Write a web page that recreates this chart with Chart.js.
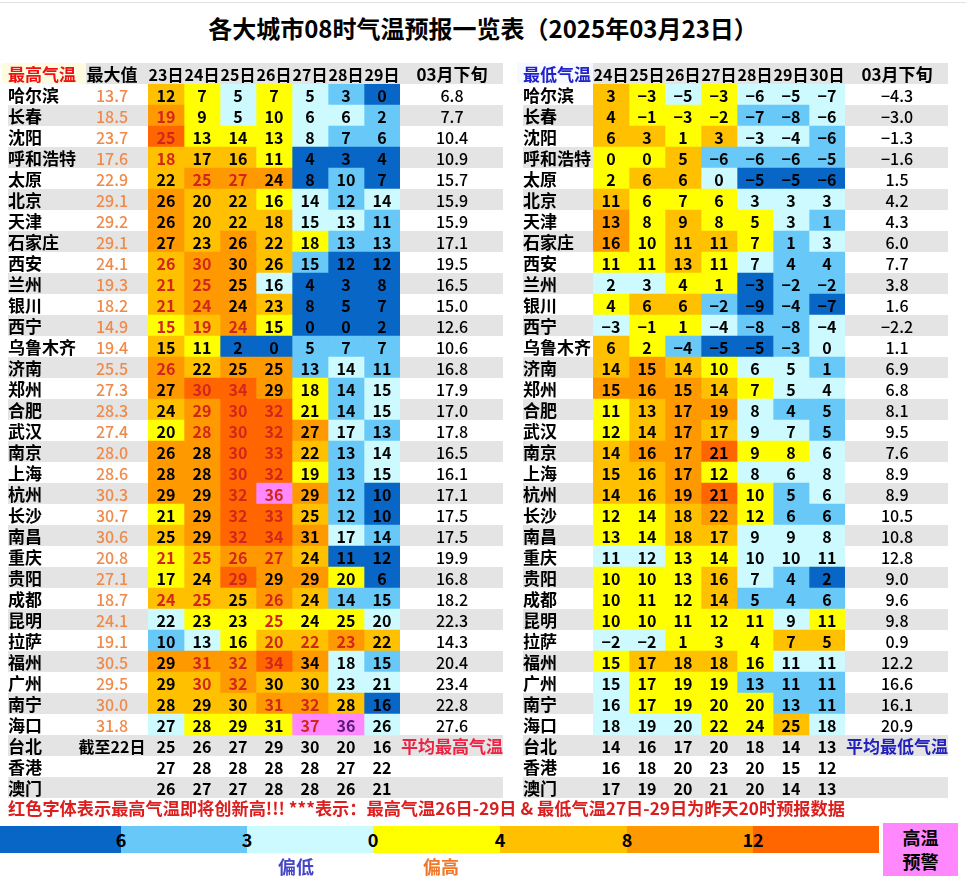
<!DOCTYPE html>
<html><head><meta charset="utf-8">
<script src="https://cdn.jsdelivr.net/npm/chart.js@4.4.1/dist/chart.umd.min.js"></script>
<style>
html,body{margin:0;padding:0;background:#fff;}
body{width:966px;height:890px;overflow:hidden;position:relative;font-family:"Noto Sans CJK SC","Noto Sans",sans-serif;}
#topline{position:absolute;left:0;top:2px;width:966px;height:1px;background:#e2e2e2;}
#title{position:absolute;left:0;top:9px;width:966px;text-align:center;font-size:24px;font-weight:700;line-height:38px;color:#000;}
canvas{position:absolute;top:0;}
#note{position:absolute;left:8px;top:797px;font-size:17.2px;font-weight:700;color:#dc1e1e;line-height:22px;white-space:nowrap;}
.seg{position:absolute;top:826px;height:27px;}
.lab{position:absolute;top:826px;height:27px;line-height:27px;font-size:18px;font-weight:700;color:#000;transform:translateX(-50%);}
#warn{position:absolute;left:883px;top:823px;width:75px;height:53px;background:#ff88ff;text-align:center;font-size:18px;font-weight:700;line-height:24px;padding-top:2px;box-sizing:border-box;}
.tag{position:absolute;top:853px;font-size:18px;font-weight:700;line-height:26px;transform:translateX(-50%);}
</style>
</head><body>
<div id="topline"></div>
<div id="title">各大城市08时气温预报一览表（2025年03月23日）</div>
<canvas id="left" width="515" height="890" style="left:0"></canvas>
<canvas id="right" width="451" height="890" style="left:515px"></canvas>
<div id="note">红色字体表示最高气温即将创新高!!! ***表示：最高气温26日-29日 &amp; 最低气温27日-29日为昨天20时预报数据</div>
<div id="legend"></div>
<div id="warn">高温<br>预警</div>
<div class="tag" style="left:296px;color:#4646c8">偏低</div>
<div class="tag" style="left:441px;color:#f07828">偏高</div>
<script>
// ---------------- DATA ----------------
const cities = ['哈尔滨','长春','沈阳','呼和浩特','太原','北京','天津','石家庄','西安','兰州','银川','西宁','乌鲁木齐','济南','郑州','合肥','武汉','南京','上海','杭州','长沙','南昌','重庆','贵阳','成都','昆明','拉萨','福州','广州','南宁','海口','台北','香港','澳门'];
const highDays = ['23日','24日','25日','26日','27日','28日','29日'];
const lowDays = ['24日','25日','26日','27日','28日','29日','30日'];
const legendTicks = ['6','3','0','4','8','12'];

const highRecord = [13.7,18.5,23.7,17.6,22.9,29.1,29.2,29.1,24.1,19.3,18.2,14.9,19.4,25.5,27.3,28.3,27.4,28.0,28.6,30.3,30.7,30.6,20.8,27.1,18.7,24.1,19.1,30.5,29.5,30.0,31.8];
const highNormal = [6.8,7.7,10.4,10.9,15.7,15.9,15.9,17.1,19.5,16.5,15.0,12.6,10.6,16.8,17.9,17.0,17.8,16.5,16.1,17.1,17.5,17.5,19.9,16.8,18.2,22.3,14.3,20.4,23.4,22.8,27.6];
const lowNormal = [-4.3,-3.0,-1.3,-1.6,1.5,4.2,4.3,6.0,7.7,3.8,1.6,-2.2,1.1,6.9,6.8,8.1,9.5,7.6,8.9,8.9,10.5,10.8,12.8,9.0,9.6,9.8,0.9,12.2,16.6,16.1,20.9];

const highTemps = [
 [12,7,5,7,5,3,0],[19,9,5,10,6,6,2],[25,13,14,13,8,7,6],[18,17,16,11,4,3,4],[22,25,27,24,8,10,7],
 [26,20,22,16,14,12,14],[26,20,22,18,15,13,11],[27,23,26,22,18,13,13],[26,30,30,26,15,12,12],[21,25,25,16,4,3,8],
 [21,24,24,23,8,5,7],[15,19,24,15,0,0,2],[15,11,2,0,5,7,7],[26,22,25,25,13,14,11],[27,30,34,29,18,14,15],
 [24,29,30,32,21,14,15],[20,28,30,32,27,17,13],[26,28,30,33,22,13,14],[28,28,30,32,19,13,15],[29,29,32,36,29,12,10],
 [21,29,32,33,25,12,10],[25,29,32,34,31,17,14],[21,25,26,27,24,11,12],[17,24,29,29,29,20,6],[24,25,25,26,24,14,15],
 [22,23,23,25,24,25,20],[10,13,16,20,22,23,22],[29,31,32,34,34,18,15],[29,30,32,30,30,23,21],[28,29,30,31,32,28,16],
 [27,28,29,31,37,36,26],[25,26,27,29,30,20,16],[27,28,28,28,28,27,22],[26,27,27,28,28,26,21]
];
// anomaly class: -3 <=-6, -2 -6..-3, -1 -3..0, 1 0..4, 2 4..8, 3 8..12, 4 >12, 5 high-temp warning
const highClass = [
 [2,1,-1,1,-1,-2,-3],[3,1,-1,1,-1,-1,-2],[4,1,1,1,-1,-2,-2],[2,2,2,1,-3,-3,-3],[2,3,3,3,-3,-2,-3],
 [3,2,2,1,-1,-2,-1],[3,2,2,2,-1,-1,-2],[3,2,3,2,1,-2,-2],[2,3,3,2,-2,-3,-3],[2,3,3,-1,-3,-3,-3],
 [2,3,3,2,-3,-3,-3],[1,2,3,1,-3,-3,-3],[2,1,-3,-3,-2,-2,-2],[3,2,3,3,-2,-1,-2],[3,4,4,3,1,-2,-1],
 [2,3,4,4,1,-2,-1],[1,3,4,4,3,-1,-2],[3,3,4,4,2,-2,-1],[3,3,4,4,1,-2,-1],[3,3,4,5,3,-2,-3],
 [1,3,4,4,2,-2,-3],[2,3,4,4,3,-1,-2],[1,2,3,3,2,-3,-3],[1,2,4,3,3,1,-3],[2,2,2,3,2,-2,-2],
 [-1,1,1,1,1,1,-1],[-2,-1,1,2,2,3,2],[3,3,3,4,3,-1,-2],[2,2,3,2,2,-1,-1],[2,2,2,3,3,2,-3],
 [-1,1,1,1,5,5,-1]
];
// text flag: 1 = record high (red), 2 = purple
const highFlag = [
 [0,0,0,0,0,0,0],[1,0,0,0,0,0,0],[1,0,0,0,0,0,0],[1,0,0,0,0,0,0],[0,1,1,0,0,0,0],
 [0,0,0,0,0,0,0],[0,0,0,0,0,0,0],[0,0,0,0,0,0,0],[1,1,0,0,0,0,0],[1,1,0,0,0,0,0],
 [1,1,0,0,0,0,0],[1,1,1,0,0,0,0],[0,0,0,0,0,0,0],[1,0,0,0,0,0,0],[0,1,1,0,0,0,0],
 [0,1,1,1,0,0,0],[0,1,1,1,0,0,0],[0,0,1,1,0,0,0],[0,0,1,1,0,0,0],[0,0,1,1,0,0,0],
 [0,0,1,1,0,0,0],[0,0,1,1,0,0,0],[1,1,1,1,0,0,0],[0,0,1,0,0,0,0],[1,1,0,1,0,0,0],
 [0,0,0,1,0,0,0],[0,0,0,1,1,1,0],[0,1,1,1,0,0,0],[0,1,1,0,0,0,0],[0,0,0,1,1,0,0],
 [0,0,0,0,1,2,0]
];

const lowTemps = [
 [3,-3,-5,-3,-6,-5,-7],[4,-1,-3,-2,-7,-8,-6],[6,3,1,3,-3,-4,-6],[0,0,5,-6,-6,-6,-5],[2,6,6,0,-5,-5,-6],
 [11,6,7,6,3,3,3],[13,8,9,8,5,3,1],[16,10,11,11,7,1,3],[11,11,13,11,7,4,4],[2,3,4,1,-3,-2,-2],
 [4,6,6,-2,-9,-4,-7],[-3,-1,1,-4,-8,-8,-4],[6,2,-4,-5,-5,-3,0],[14,15,14,10,6,5,1],[15,16,15,14,7,5,4],
 [11,13,17,19,8,4,5],[12,14,17,17,9,7,5],[14,16,17,21,9,8,6],[15,16,17,12,8,6,8],[14,16,19,21,10,5,6],
 [12,14,18,22,12,6,6],[13,14,18,17,9,9,8],[11,12,13,14,10,10,11],[10,10,13,16,7,4,2],[10,11,12,14,5,4,6],
 [10,10,11,12,11,9,11],[-2,-2,1,3,4,7,5],[15,17,18,18,16,11,11],[15,17,19,19,13,11,11],[16,17,19,20,20,13,11],
 [18,19,20,22,24,25,18],[14,16,17,20,18,14,13],[16,18,20,23,20,15,12],[17,19,20,21,20,14,13]
];
const lowClass = [
 [2,1,-1,1,-1,-1,-1],[2,1,1,1,-2,-2,-1],[2,2,1,2,-1,-1,-2],[1,1,2,-2,-2,-2,-2],[1,2,2,-1,-3,-3,-3],
 [2,1,1,1,-1,-1,-1],[3,1,2,1,1,-1,-2],[3,1,2,2,1,-2,-1],[1,1,2,1,-1,-2,-2],[-1,-1,1,1,-3,-2,-2],
 [1,2,2,-2,-3,-2,-3],[-1,1,1,-1,-2,-2,-1],[2,1,-2,-3,-3,-2,-1],[2,3,2,1,-1,-1,-2],[3,3,3,2,1,-1,-1],
 [1,2,3,3,-1,-2,-2],[1,2,3,2,-1,-1,-2],[2,3,3,4,1,1,-1],[2,2,3,1,-1,-1,-1],[2,2,3,4,1,-2,-1],
 [1,1,2,3,1,-2,-2],[1,1,2,2,-1,-1,-1],[-1,-1,1,1,-1,-1,-1],[1,1,1,2,-1,-2,-3],[1,1,1,2,-2,-2,-2],
 [1,1,1,1,1,-1,1],[-1,-1,1,1,1,2,2],[1,2,2,2,1,-1,-1],[-1,1,1,1,-2,-2,-2],[-1,1,1,1,1,-2,-2],
 [-1,-1,-1,1,1,2,-1]
];

// ---------------- STYLE ----------------
const PALETTE = {'-3':'#0866c6','-2':'#68c8f8','-1':'#ccfaff','1':'#ffff00','2':'#ffc000','3':'#ff9900','4':'#ff6600','5':'#ff88ff'};
const LEGEND_COLORS = ['#0866c6','#68c8f8','#ccfaff','#ffff00','#ffc000','#ff9900','#ff6600'];
const FONT = '"Noto Sans CJK SC","Noto Sans",sans-serif';
const GRAY = '#e4e4e4';
const fmtInt = v => (v < 0 ? '\u2212' + Math.abs(v) : String(v));
const fmt1 = v => (v < 0 ? '\u2212' + Math.abs(v).toFixed(1) : v.toFixed(1));

function tablePlugin(o) {
  return {
    id: 'tbl_' + o.key,
    beforeDatasetsDraw(chart) {
      const {ctx, chartArea, scales: {y}} = chart;
      const rowH = (chartArea.bottom - chartArea.top) / cities.length;
      ctx.save();
      ctx.fillStyle = GRAY;
      ctx.fillRect(o.stripeL, chartArea.top - rowH, o.stripeR - o.stripeL, rowH);
      cities.forEach((c, i) => {
        if (i % 2 === 1) ctx.fillRect(o.stripeL, y.getPixelForValue(i) - rowH / 2, o.stripeR - o.stripeL, rowH);
      });
      ctx.fillStyle = o.headBg;
      ctx.fillRect(o.stripeL - 6, chartArea.top - rowH, o.headBgW, rowH);
      ctx.restore();
    },
    afterDatasetsDraw(chart) {
      const {ctx, chartArea, scales: {x, y}} = chart;
      const rowH = (chartArea.bottom - chartArea.top) / cities.length;
      const hy = chartArea.top - rowH / 2 + 1;
      ctx.save();
      ctx.textBaseline = 'middle';
      // header
      ctx.font = '700 17px ' + FONT;
      ctx.textAlign = 'left';
      ctx.fillStyle = o.headColor;
      ctx.fillText(o.headLabel, o.nameX, hy);
      ctx.fillStyle = '#000';
      ctx.textAlign = 'center';
      if (o.recordX) ctx.fillText('最大值', o.recordX, hy);
      ctx.fillText('03月下旬', o.normX, hy);
      ctx.font = '700 16px ' + FONT;
      o.days.forEach((d, j) => ctx.fillText(d, x.getPixelForValue(j + 0.5), hy));
      // city names
      ctx.font = '700 17px ' + FONT;
      ctx.textAlign = 'left';
      cities.forEach((c, i) => ctx.fillText(c, o.nameX, y.getPixelForValue(i) + 1));
      // cell values
      ctx.font = '700 16px ' + FONT;
      ctx.textAlign = 'center';
      o.days.forEach((d, j) => {
        const meta = chart.getDatasetMeta(j);
        meta.data.forEach((bar, i) => {
          const f = o.flags ? ((o.flags[i] || [])[j] || 0) : 0;
          ctx.fillStyle = f === 1 ? '#d2261c' : (f === 2 ? '#5a1a78' : '#000');
          ctx.fillText(fmtInt(o.temps[i][j]), (bar.x + bar.base) / 2, bar.y + 1);
        });
      });
      // record column
      ctx.font = '500 16px ' + FONT;
      if (o.record) {
        ctx.fillStyle = '#f08a4a';
        o.record.forEach((v, i) => ctx.fillText(fmt1(v), o.recordX, y.getPixelForValue(i) + 1));
        ctx.fillStyle = '#000';
        ctx.font = '700 16px ' + FONT;
        ctx.fillText('截至22日', o.recordX, y.getPixelForValue(o.record.length) + 1);
        ctx.font = '500 16px ' + FONT;
      }
      ctx.fillStyle = '#000';
      o.normal.forEach((v, i) => ctx.fillText(fmt1(v), o.normX, y.getPixelForValue(i) + 1));
      ctx.font = '700 17px ' + FONT;
      ctx.fillStyle = o.normNoteColor;
      ctx.fillText(o.normNote, o.normX, y.getPixelForValue(o.normal.length) + 1);
      ctx.restore();
    }
  };
}

function makeTable(id, o) {
  const datasets = o.days.map((d, j) => ({
    label: d,
    data: cities.map(() => [j, j + 1]),
    backgroundColor: cities.map((c, i) => {
      const lv = (o.classes[i] || [])[j];
      return lv ? PALETTE[String(lv)] : 'rgba(0,0,0,0)';
    }),
    borderWidth: 0,
    barPercentage: 1,
    categoryPercentage: 1,
    grouped: false
  }));
  new Chart(document.getElementById(id), {
    type: 'bar',
    data: {labels: cities, datasets},
    options: {
      indexAxis: 'y',
      responsive: false,
      devicePixelRatio: 1,
      animation: false,
      layout: {padding: o.padding},
      scales: {
        x: {type: 'linear', min: 0, max: o.days.length, display: false},
        y: {type: 'category', display: false, offset: true}
      },
      plugins: {legend: {display: false}, tooltip: {enabled: false}, title: {display: false}}
    },
    plugins: [tablePlugin(o)]
  });
}

makeTable('left', {
  key: 'hi', days: highDays, temps: highTemps, classes: highClass, flags: highFlag,
  record: highRecord, normal: highNormal,
  padding: {left: 148, right: 115, top: 84, bottom: 92},
  stripeL: 8, stripeR: 503, headBg: '#fffbe0', headBgW: 84,
  nameX: 8, recordX: 112, normX: 452,
  headLabel: '最高气温', headColor: '#ee1111',
  normNote: '平均最高气温', normNoteColor: '#ee2244'
});
makeTable('right', {
  key: 'lo', days: lowDays, temps: lowTemps, classes: lowClass, flags: null,
  record: null, normal: lowNormal,
  padding: {left: 78, right: 121, top: 84, bottom: 92},
  stripeL: 8, stripeR: 433, headBg: '#f6f9ff', headBgW: 76,
  nameX: 8, recordX: 0, normX: 382,
  headLabel: '最低气温', headColor: '#2222cc',
  normNote: '平均最低气温', normNoteColor: '#2222bb'
});

// legend bar
(function () {
  const edges = [0, 121, 247, 373, 500, 627, 753, 879];
  const lg = document.getElementById('legend');
  LEGEND_COLORS.forEach((c, k) => {
    const d = document.createElement('div');
    d.className = 'seg';
    d.style.left = edges[k] + 'px';
    d.style.width = (edges[k + 1] - edges[k]) + 'px';
    d.style.background = c;
    lg.appendChild(d);
  });
  legendTicks.forEach((t, k) => {
    const d = document.createElement('div');
    d.className = 'lab';
    d.style.left = edges[k + 1] + 'px';
    d.textContent = t;
    lg.appendChild(d);
  });
})();
</script>
</body></html>
